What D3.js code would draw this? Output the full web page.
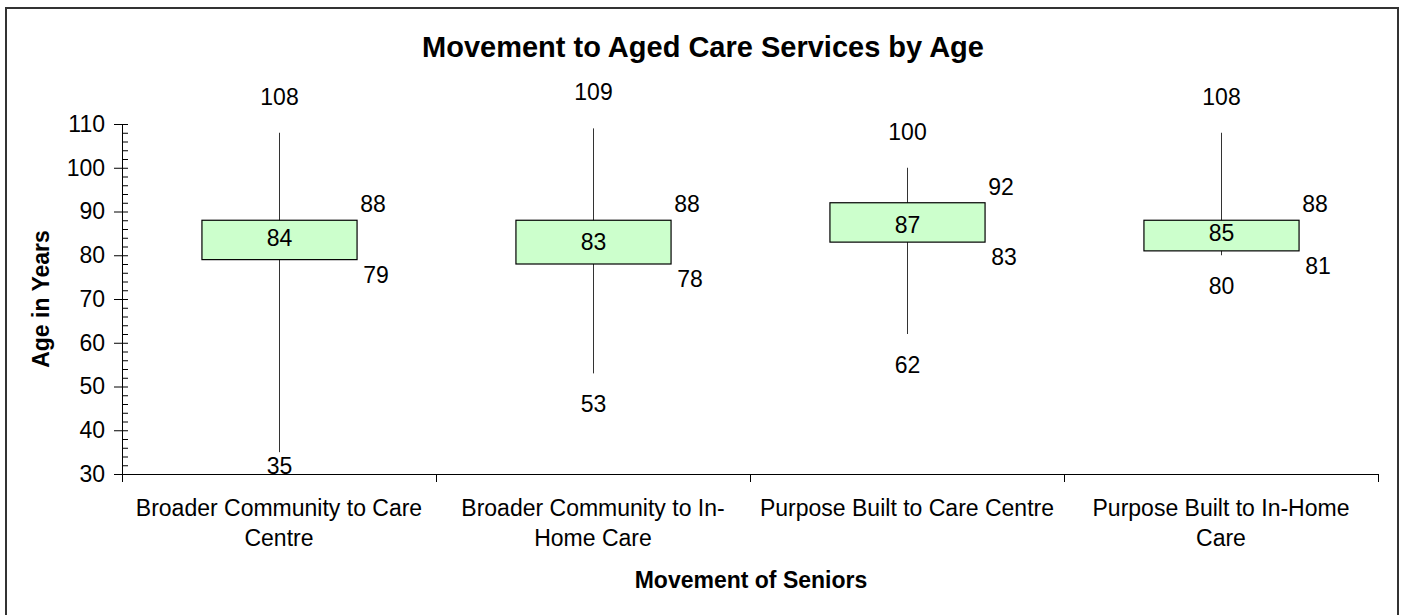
<!DOCTYPE html>
<html>
<head>
<meta charset="utf-8">
<script src="https://cdn.jsdelivr.net/npm/d3@7"></script>
<style>
  html, body { margin: 0; padding: 0; background: #fff; }
  svg { display: block; font-family: "Liberation Sans", Arial, sans-serif; }
</style>
</head>
<body>
<svg id="chart" width="1403" height="615"></svg>
<script>
// ---- data ----
const categories = [
  "Broader Community to Care Centre",
  "Broader Community to In-Home Care",
  "Purpose Built to Care Centre",
  "Purpose Built to In-Home Care"
];
const categoryLabelLines = [
  ["Broader Community to Care", "Centre"],
  ["Broader Community to In-", "Home Care"],
  ["Purpose Built to Care Centre"],
  ["Purpose Built to In-Home", "Care"]
];
const minValues    = [35, 53, 62, 80];
const q1Values     = [79, 78, 83, 81];
const medianValues = [84, 83, 87, 85];
const q3Values     = [88, 88, 92, 88];
const maxValues    = [108, 109, 100, 108];
const yTicks = [30, 40, 50, 60, 70, 80, 90, 100, 110];
const yMinorTicks = d3.range(30, 111, 2);

const title = "Movement to Aged Care Services by Age";
const xTitle = "Movement of Seniors";
const yTitle = "Age in Years";

// ---- layout ----
const svg = d3.select("#chart");
const plot = { left: 122, right: 1378, top: 124, bottom: 474 };
const fontSize = 23;

// outer border
svg.append("rect")
  .attr("x", 6).attr("y", 8)
  .attr("width", 1392).attr("height", 640)
  .attr("fill", "#fff")
  .attr("stroke", "#333").attr("stroke-width", 2);

const y = d3.scaleLinear().domain([30, 110]).range([plot.bottom, plot.top]);
const x = d3.scaleBand().domain(categories).range([plot.left, plot.right]).padding(0);
const xEdge = d3.scaleLinear().domain([0, categories.length]).range([plot.left, plot.right]);

// title
svg.append("text")
  .attr("x", 703).attr("y", 47)
  .attr("text-anchor", "middle").attr("dy", "0.35em")
  .attr("font-size", 29).attr("font-weight", "bold")
  .text(title);

// y axis: major ticks out (left), minor ticks in (right)
const yAxisG = svg.append("g").attr("transform", `translate(${plot.left},0)`);
yAxisG.call(d3.axisLeft(y).tickValues(yTicks).tickSize(8).tickPadding(9).tickFormat(d3.format("d")))
  .call(g => g.select(".domain").remove());
yAxisG.selectAll(".tick text").attr("font-size", fontSize).attr("font-family", "Liberation Sans, Arial, sans-serif").attr("fill", "#000");
yAxisG.selectAll(".tick line").attr("stroke", "#000");
const yMinorG = svg.append("g").attr("transform", `translate(${plot.left},0)`);
yMinorG.call(d3.axisRight(y).tickValues(yMinorTicks).tickSize(6).tickFormat(""))
  .call(g => g.select(".domain").remove());
yMinorG.selectAll(".tick line").attr("stroke", "#000");
svg.append("line")
  .attr("x1", plot.left + 0.5).attr("x2", plot.left + 0.5)
  .attr("y1", plot.top).attr("y2", plot.bottom)
  .attr("stroke", "#000");

// x axis with category boundary ticks
const xAxisG = svg.append("g").attr("transform", `translate(0,${plot.bottom})`);
xAxisG.call(d3.axisBottom(xEdge).tickValues(d3.range(0, categories.length + 1)).tickSize(8).tickFormat("").tickSizeOuter(0));
xAxisG.selectAll("line, path").attr("stroke", "#000");

// category labels
categories.forEach((c, i) => {
  const t = svg.append("text")
    .attr("x", x(c) + x.bandwidth() / 2)
    .attr("y", 508)
    .attr("text-anchor", "middle")
    .attr("font-size", fontSize);
  categoryLabelLines[i].forEach((line, j) => {
    t.append("tspan")
      .attr("x", x(c) + x.bandwidth() / 2)
      .attr("y", 508 + j * 30)
      .attr("dy", "0.35em")
      .text(line);
  });
});

// axis titles
svg.append("text")
  .attr("x", 751).attr("y", 580).attr("dy", "0.35em")
  .attr("text-anchor", "middle")
  .attr("font-size", fontSize).attr("font-weight", "bold")
  .text(xTitle);
svg.append("text")
  .attr("transform", `translate(41,${(plot.top + plot.bottom) / 2}) rotate(-90)`)
  .attr("dy", "0.35em")
  .attr("text-anchor", "middle")
  .attr("font-size", fontSize).attr("font-weight", "bold")
  .text(yTitle);

// boxes
const boxW = x.bandwidth() * 0.494;
const data = categories.map((c, i) => ({
  c, min: minValues[i], q1: q1Values[i], med: medianValues[i], q3: q3Values[i], max: maxValues[i]
}));

const g = svg.append("g");
data.forEach(d => {
  const cx = Math.round(x(d.c) + x.bandwidth() / 2) + 0.5;
  const left = cx - boxW / 2, right = cx + boxW / 2;
  // whisker
  g.append("line")
    .attr("x1", cx).attr("x2", cx)
    .attr("y1", y(d.max)).attr("y2", y(d.min))
    .attr("stroke", "#333").attr("stroke-width", 1);
  // box
  g.append("rect")
    .attr("x", left).attr("y", y(d.q3))
    .attr("width", boxW).attr("height", y(d.q1) - y(d.q3))
    .attr("fill", "#CCFFCC")
    .attr("stroke", "#000").attr("stroke-width", 1.2);
  const lab = (tx, ty, v) => g.append("text")
    .attr("x", tx).attr("y", ty).attr("dy", "0.35em")
    .attr("text-anchor", "middle").attr("font-size", fontSize)
    .text(v);
  lab(cx, y(d.med), d.med);
  lab(cx, y(d.max) - 36, d.max);
  lab(cx, Math.min(y(d.min) + 31, plot.bottom - 8), d.min);
  lab(right + 16, y(d.q3) - 16, d.q3);
  lab(right + 19, y(d.q1) + 15, d.q1);
});
</script>
</body>
</html>
